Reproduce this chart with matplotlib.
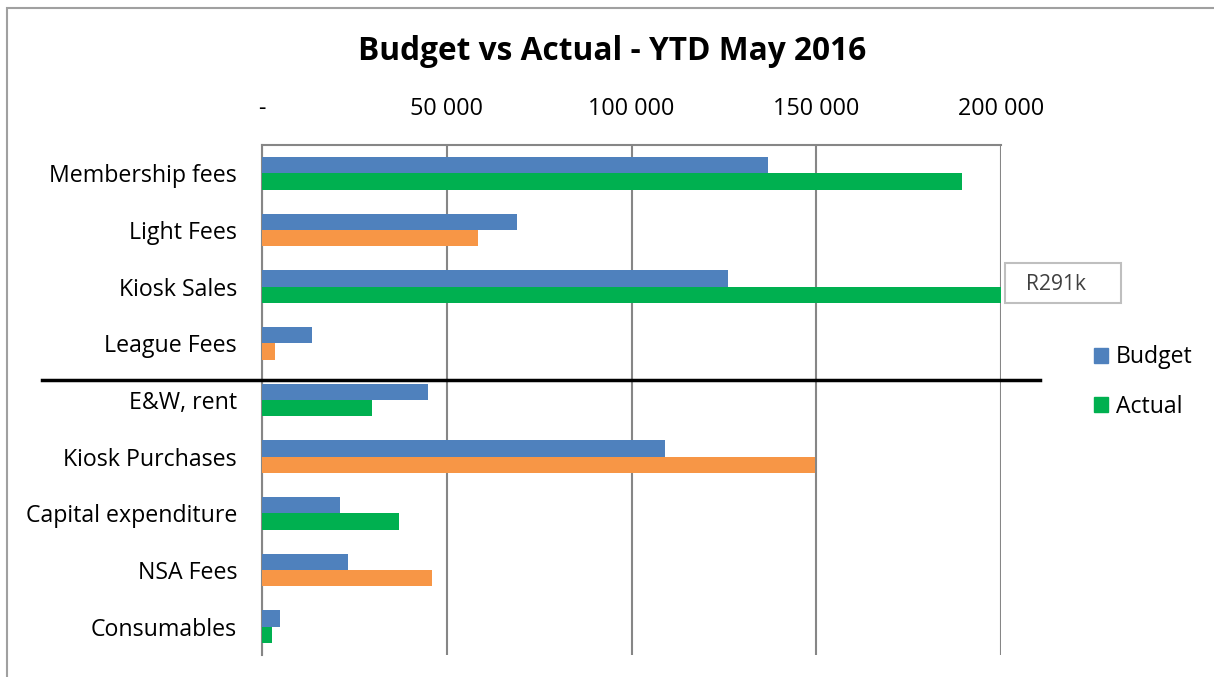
import matplotlib
matplotlib.use("Agg")
import matplotlib.pyplot as plt
from matplotlib.patches import Rectangle, Patch
from matplotlib.transforms import blended_transform_factory
from matplotlib.ticker import FuncFormatter

plt.rcParams['font.family'] = ['Open Sans', 'DejaVu Sans']

# ---- data ----
categories = ["Membership fees", "Light Fees", "Kiosk Sales", "League Fees",
              "E&W, rent", "Kiosk Purchases", "Capital expenditure",
              "NSA Fees", "Consumables"]
budget = [137000, 69000, 126000, 13500, 45000, 109000, 21000, 23300, 5000]
actual = [189400, 58400, 291000, 3500, 29700, 149600, 37000, 46000, 2700]
actual_status = ["good", "bad", "good", "bad", "good", "bad", "good", "bad", "good"]
x_ticks = [0, 50000, 100000, 150000, 200000]
title = "Budget vs Actual - YTD May 2016"
x_max = 200000
overflow_label = "R291k"

# ---- styles ----
c_budget = "#4F81BD"
c_good = "#00B050"
c_bad = "#F79646"
grid_c = "#868686"

W, H = 1214, 677
fig = plt.figure(figsize=(W / 100, H / 100), dpi=100)
ax = fig.add_axes([262 / W, 1 - 655 / H, (1001 - 262) / W, (655 - 145) / H])

n = len(categories)
pos = list(range(n))
bh = 0.29
act_cols = [c_good if s == "good" else c_bad for s in actual_status]
ax.barh([p - bh / 2 for p in pos], budget, height=bh, color=c_budget, label="Budget", zorder=3)
ax.barh([p + bh / 2 for p in pos], actual, height=bh, color=act_cols, label="Actual", zorder=3)

ax.set_xlim(0, x_max)
ax.set_ylim(n - 0.5, -0.5)
ax.set_yticks(pos)
ax.set_yticklabels(categories, fontsize=16.7)
ax.xaxis.tick_top()
ax.set_xticks(x_ticks)
ax.xaxis.set_major_formatter(FuncFormatter(
    lambda v, p: "-" if v == 0 else f"{int(v):,}".replace(",", " ")))
ax.tick_params(axis="x", length=0, pad=17, labelsize=16.8)
ax.tick_params(axis="y", length=0, pad=18)
ax.grid(axis="x", color=grid_c, linewidth=1.5, zorder=0)
for s in ["bottom", "right"]:
    ax.spines[s].set_visible(False)
for s in ["top", "left"]:
    ax.spines[s].set_color(grid_c)
    ax.spines[s].set_linewidth(1.5)

# title
fig.text(612 / W, 1 - 52 / H, title, ha="center", va="center",
         fontsize=22.8, fontweight="bold")

# separator line between income and expenses
tr = blended_transform_factory(fig.transFigure, ax.transData)
ax.plot([42 / W, 1040 / W], [3.64, 3.64], color="black", lw=2.5,
        transform=tr, clip_on=False, zorder=5)

# overflow label box
fig.patches.append(Rectangle((1005 / W, 1 - 303 / H), 116 / W, 40 / H,
                             transform=fig.transFigure, facecolor="white",
                             edgecolor="#BFBFBF", linewidth=1.5))
fig.text(1026 / W, 1 - 285 / H, overflow_label, ha="left", va="center",
         fontsize=15.2, color="#404040")

# legend
handles = [Patch(color=c_budget, label="Budget"), Patch(color=c_good, label="Actual")]
fig.legend(handles=handles, loc="center left", bbox_to_anchor=(1073 / W, 1 - 382 / H),
           frameon=False, fontsize=16.6, handlelength=0.6, handleheight=0.6,
           labelspacing=1.1, handletextpad=0.35)

# outer chart border
fig.patches.append(Rectangle((7 / W, -0.05), 1.1, 1 - 8 / H + 0.05,
                             transform=fig.transFigure, fill=False,
                             edgecolor="#A0A0A0", linewidth=1.5))

fig.savefig("out.png", dpi=100)
